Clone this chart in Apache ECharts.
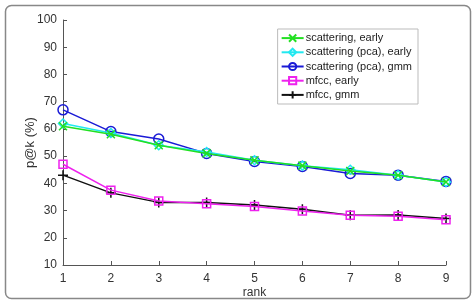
<!DOCTYPE html>
<html>
<head>
	<meta charset="utf-8">
	<title></title>
	<style>
		html, body { margin: 0; padding: 0; background: #fff; }
		#box_1 { width: 472px; height: 300px; }
	</style>
</head>
<body>
	<div id="box_1"></div>
</body>
<script src="https://cdn.jsdelivr.net/npm/echarts@6/dist/echarts.min.js"></script>
<script>
	var ranks = ['1', '2', '3', '4', '5', '6', '7', '8', '9']
	var names = ['scattering, early', 'scattering (pca), early', 'scattering (pca), gmm', 'mfcc, early', 'mfcc, gmm']
	var scatEarly = [61, 58, 54, 51, 48.5, 46.5, 44.5, 43, 40.5]
	var scatPcaEarly = [62, 58.5, 54, 51.5, 48.5, 46.5, 45, 43, 40.5]
	var scatPcaGmm = [67, 59, 56.3, 51, 48, 46.2, 43.6, 43, 40.7]
	var mfccEarly = [47, 37.5, 33.5, 32.5, 31.5, 29.8, 28.3, 27.9, 26.6]
	var mfccGmm = [43, 36.5, 33, 33, 32, 30.5, 28.3, 28.4, 27.1]

	var colors = ['#22e022', '#22e8f0', '#1a1ad6', '#ee22ee', '#111111']
	var symbols = [
		'path://M0,0L10,10M10,0L0,10',
		'diamond',
		'circle',
		'rect',
		'path://M5,0L5,10M0,5L10,5'
	]
	var sizes = [8, 9, 10, 8, 10]
	var allData = [scatEarly, scatPcaEarly, scatPcaGmm, mfccEarly, mfccGmm]

	var myChart = echarts.init(document.getElementById('box_1'))
	var series = []
	for (var i = 0; i < allData.length; i++) {
		series.push({
			name: names[i],
			type: 'line',
			data: allData[i],
			symbol: symbols[i],
			symbolSize: sizes[i],
			showSymbol: true,
			z: 10 - i,
			lineStyle: { color: colors[i], width: 1.5 },
			itemStyle: { color: 'none', borderColor: colors[i], borderWidth: 1.5 }
		})
	}

	var option = {
		animation: false,
		textStyle: { fontFamily: 'Liberation Sans, Arial, sans-serif' },
		graphic: [{
			type: 'rect',
			left: 3, top: 3,
			shape: { width: 465, height: 293, r: 6 },
			style: { fill: 'none', stroke: '#888', lineWidth: 1.5 },
			silent: true
		}],
		legend: {
			orient: 'vertical',
			right: 54,
			top: 29,
			itemWidth: 22,
			itemHeight: 9,
			itemGap: 2,
			padding: [3, 6, 3, 3],
			borderColor: '#bbb',
			borderWidth: 1,
			backgroundColor: '#fff',
			textStyle: { fontSize: 11, color: '#222', padding: [0, 0, 0, -3], lineHeight: 12 },
			data: names
		},
		grid: { left: 63, right: 26, top: 20, bottom: 35, containLabel: false, outerBoundsMode: 'none' },
		xAxis: {
			type: 'category',
			data: ranks,
			boundaryGap: false,
			name: 'rank',
			nameLocation: 'middle',
			nameGap: 22,
			nameMoveOverlap: false,
			nameTextStyle: { fontSize: 12, color: '#333' },
			axisLine: { lineStyle: { color: '#555', width: 1 } },
			axisTick: { inside: true, length: 4, lineStyle: { color: '#555' } },
			axisLabel: { fontSize: 12, color: '#333', margin: 8 },
			splitLine: { show: false }
		},
		yAxis: {
			type: 'value',
			min: 10,
			max: 100,
			interval: 10,
			name: 'p@k (%)',
			nameLocation: 'middle',
			nameGap: 26,
			nameMoveOverlap: false,
			nameTextStyle: { fontSize: 13, color: '#333' },
			axisLine: { show: true, lineStyle: { color: '#555', width: 1 } },
			axisTick: { show: true, inside: true, length: 4, lineStyle: { color: '#555' } },
			axisLabel: { fontSize: 12, color: '#333', margin: 6 },
			splitLine: { show: false }
		},
		series: series
	}
	myChart.setOption(option)
</script>
</html>
